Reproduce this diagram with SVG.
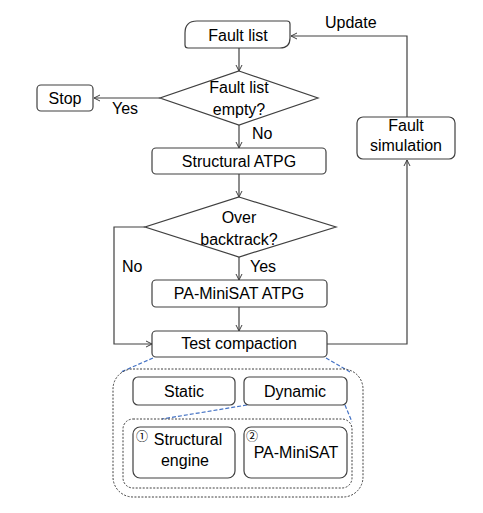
<svg xmlns="http://www.w3.org/2000/svg" width="483" height="513" viewBox="0 0 483 513">
<style>
.box{fill:#fff;stroke:#404040;stroke-width:1.2}
.t{font-family:"Liberation Sans",Arial,sans-serif;font-size:16px;fill:#000;text-anchor:middle}
.lbl{font-family:"Liberation Sans",Arial,sans-serif;font-size:16px;fill:#000}
.ln{fill:none;stroke:#404040;stroke-width:1.2}
.dot{fill:none;stroke:#404040;stroke-width:1;stroke-dasharray:2 1.5}
.blue{fill:none;stroke:#4472C4;stroke-width:1.2;stroke-dasharray:4 2}
.num{font-family:"Noto Sans CJK SC","DejaVu Sans",sans-serif;font-size:12px;fill:#000}
</style>
<defs>
<marker id="a" markerWidth="8" markerHeight="8" refX="7" refY="4" orient="auto" markerUnits="userSpaceOnUse">
<path d="M1,1 L7,4 L1,7" fill="none" stroke="#404040" stroke-width="1"/>
</marker>
</defs>
<rect width="483" height="513" fill="#fff"/>
<g id="connectors">
<line class="ln" x1="239" y1="48" x2="239" y2="71" marker-end="url(#a)"/>
<line class="ln" x1="160" y1="98" x2="94" y2="98" marker-end="url(#a)"/>
<line class="ln" x1="239" y1="125" x2="239" y2="148" marker-end="url(#a)"/>
<line class="ln" x1="239" y1="174" x2="239" y2="197" marker-end="url(#a)"/>
<line class="ln" x1="239" y1="257" x2="239" y2="280" marker-end="url(#a)"/>
<line class="ln" x1="239" y1="307" x2="239" y2="331" marker-end="url(#a)"/>
<polyline class="ln" points="145,227 114,227 114,344 152,344" marker-end="url(#a)"/>
<polyline class="ln" points="327,344 407,344 407,160" marker-end="url(#a)"/>
<polyline class="ln" points="407,117 407,36 291,36" marker-end="url(#a)"/>
<line class="blue" x1="153" y1="358" x2="121" y2="372"/>
<line class="blue" x1="326" y1="358" x2="350" y2="372"/>
<line class="blue" x1="247" y1="405" x2="162" y2="419"/>
<line class="blue" x1="345" y1="405" x2="352" y2="422"/>
<text class="lbl" x="112" y="114">Yes</text>
<text class="lbl" x="252" y="139">No</text>
<text class="lbl" x="122" y="272">No</text>
<text class="lbl" x="250" y="272">Yes</text>
<text class="lbl" x="325" y="28">Update</text>
</g>
<g id="fault-list">
<path class="box" d="M197,21 L287,21 Q290,21 290,24 L290,38 Q290,48 280,48 L188,48 Q185,48 185,45 L185,33 Q185,21 197,21 Z"/>
<text class="t" x="238" y="41">Fault list</text>
</g>
<g id="empty-decision">
<polygon class="box" points="239,71 318,98 239,125 160,98"/>
<text class="t" x="239" y="93">Fault list</text>
<text class="t" x="239" y="115">empty?</text>
</g>
<g id="stop">
<rect class="box" x="37" y="85" width="56" height="26" rx="4"/>
<text class="t" x="65" y="104">Stop</text>
</g>
<g id="structural-atpg">
<rect class="box" x="152" y="148" width="174" height="26" rx="4"/>
<text class="t" x="239" y="167">Structural ATPG</text>
</g>
<g id="over-backtrack">
<polygon class="box" points="239,197 336,227 239,257 145,227"/>
<text class="t" x="239" y="223">Over</text>
<text class="t" x="239" y="245">backtrack?</text>
</g>
<g id="pa-minisat-atpg">
<rect class="box" x="152" y="280" width="175" height="27" rx="4"/>
<text class="t" x="239" y="299">PA-MiniSAT ATPG</text>
</g>
<g id="test-compaction">
<rect class="box" x="152" y="331" width="175" height="26" rx="4"/>
<text class="t" x="239" y="349">Test compaction</text>
</g>
<g id="fault-simulation">
<rect class="box" x="357" y="117" width="98" height="42" rx="6"/>
<text class="t" x="406" y="131">Fault</text>
<text class="t" x="406" y="151">simulation</text>
</g>
<g id="compaction-detail">
<rect class="dot" x="113" y="369" width="250" height="128" rx="20"/>
<rect class="dot" x="123" y="419" width="229" height="69" rx="10"/>
</g>
<g id="static">
<rect class="box" x="133" y="377" width="102" height="28" rx="5"/>
<text class="t" x="184" y="397">Static</text>
</g>
<g id="dynamic">
<rect class="box" x="244" y="377" width="103" height="28" rx="5"/>
<text class="t" x="295" y="397">Dynamic</text>
</g>
<g id="structural-engine">
<rect class="box" x="133" y="427" width="102" height="51" rx="7"/>
<text class="num" x="136" y="441">①</text>
<text class="t" x="188" y="445">Structural</text>
<text class="t" x="185" y="466">engine</text>
</g>
<g id="pa-minisat">
<rect class="box" x="244" y="427" width="103" height="51" rx="7"/>
<text class="num" x="246" y="441">②</text>
<text class="t" x="296" y="458">PA-MiniSAT</text>
</g>
</svg>
